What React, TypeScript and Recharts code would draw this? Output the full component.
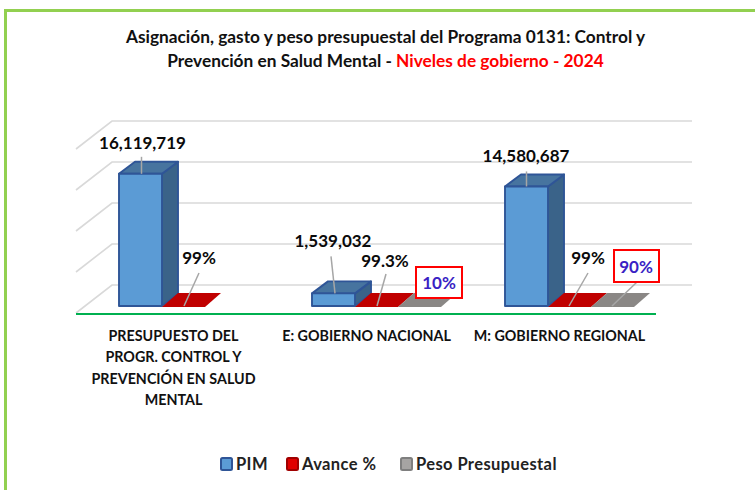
import React from "react";
import { BarChart, Bar, XAxis, YAxis, CartesianGrid, Legend, LabelList } from "recharts";

const categories = [
  "PRESUPUESTO DEL|PROGR. CONTROL Y|PREVENCIÓN EN SALUD|MENTAL",
  "E: GOBIERNO NACIONAL",
  "M: GOBIERNO REGIONAL",
];
const pim = [16119719, 1539032, 14580687];
const avance = [0.99, 0.993, 0.99];
const peso = [null, 0.1, 0.9];
const pimLabels = ["16,119,719", "1,539,032", "14,580,687"];
const avanceLabels = ["99%", "99.3%", "99%"];
const pesoLabels = ["10%", "90%"];
const yTicks = [0, 5000000, 10000000, 15000000, 20000000];

const rows = categories.map((name, i) => ({ name, pim: pim[i], avance: avance[i], peso: peso[i] }));

const W = 755, H = 490;
const BASE = 306;
const M = { top: 142, right: 89, bottom: 124, left: 87 };
const FONT = "Lato, Carlito, sans-serif";
const DX = 16, DY = 12;

const Bar3D = (p: any) => {
  const { x, y, width, height, fill, dark, top } = p;
  if (p.value == null || (Array.isArray(p.value) && p.value[1] == null)) return null;
  const h = Math.max(height, 0);
  if (h < 1) {
    return <path d={`M${x} ${y + h + 1}h${width}l${DX} ${-DY - 2}h${-width}z`} fill={fill} />;
  }
  const s = "#2f5597";
  return (
    <g stroke={s} strokeWidth={1.9} strokeLinejoin="round">
      <path d={`M${x + width} ${y}l${DX} ${-DY}v${h}l${-DX} ${DY}z`} fill={dark} />
      <path d={`M${x} ${y}l${DX} ${-DY}h${width}l${-DX} ${DY}z`} fill={top} />
      <rect x={x} y={y} width={width} height={h} fill={fill} />
    </g>
  );
};

const GridLine = (p: any) => {
  const { x1, x2, y1 } = p;
  const floor = Math.abs(y1 - BASE) < 1;
  return (
    <g>
      <path
        d={`M${x1 - 11} ${y1 + 7}L${x1 + 25} ${y1 - 21}H${x2 + 26}`}
        fill="none"
        stroke="#d9d9d9"
        strokeWidth={1.6}
      />
      {floor && <line x1={x1 - 11} x2={x2 - 10} y1={BASE + 8} y2={BASE + 8} stroke="#00b050" strokeWidth={2.2} />}
    </g>
  );
};

const CategoryTick = (p: any) => {
  const lines = String(p.payload.value).split("|");
  return (
    <text textAnchor="middle" fontFamily={FONT} fontWeight={700} fontSize={14.3} fill="#111">
      {lines.map((l, i) => (
        <tspan key={i} x={p.x - 10} y={341 + i * 21.4}>
          {l}
        </tspan>
      ))}
    </text>
  );
};

// label offsets from the bar's front-left corner
type Off = { tx: number; ty: number; x1: number; y1: number; x2: number; y2: number; box?: number[] };
const pimOff: Off[] = [
  { tx: 23.5, ty: -25, x1: 22.5, y1: -17, x2: 22.5, y2: 0 },
  { tx: 21, ty: -46, x1: 19, y1: -37, x2: 23, y2: 0 },
  { tx: 21, ty: -24, x1: 21.5, y1: -15, x2: 21.5, y2: 0 },
];
const avanceOff: Off[] = [
  { tx: 37, ty: -42, x1: 37, y1: -33, x2: 22, y2: 0 },
  { tx: 30, ty: -39, x1: 31, y1: -32, x2: 22, y2: 0 },
  { tx: 40, ty: -42, x1: 40, y1: -33, x2: 21, y2: 0 },
];
const pesoOff: Off[] = [
  { tx: 41, ty: -17, x1: 0, y1: 0, x2: 0, y2: 0, box: [18, -39, 46, 31] },
  { tx: 45, ty: -33, x1: 46, y1: -24, x2: 21, y2: 0, box: [23, -56, 45, 32] },
];

const makeLabel = (texts: string[], offs: Off[], blue = false) => (p: any) => {
  const { index, x, y } = p;
  const t = texts[index];
  if (!t) return null;
  const o = offs[index];
  const ox = Number(x);
  const oy = Number(y);
  return (
    <g>
      {o.x1 !== o.x2 || o.y1 !== o.y2 ? (
        <line x1={ox + o.x1} y1={oy + o.y1} x2={ox + o.x2} y2={oy + o.y2} stroke="#a6a6a6" strokeWidth={1.5} />
      ) : null}
      {o.box && (
        <rect x={ox + o.box[0]} y={oy + o.box[1]} width={o.box[2]} height={o.box[3]} fill="#fff" stroke="#ff0000" strokeWidth={2} />
      )}
      <text
        x={ox + o.tx}
        y={oy + o.ty}
        textAnchor="middle"
        fontFamily={FONT}
        fontWeight={700}
        fontSize={17}
        fill={blue ? "#3a1fc4" : "#0a0a0a"}
      >
        {t}
      </text>
    </g>
  );
};

const legendStroke: Record<string, string> = { PIM: "#2f5597", "Avance %": "#a00000", "Peso Presupuestal": "#7f7f7f" };
const legendFill: Record<string, string> = { PIM: "#5b9bd5", "Avance %": "#e00000", "Peso Presupuestal": "#a6a4a3" };

const LegendContent = (p: any) => {
  const items = p.payload || [];
  const xs = [220, 286, 400];
  return (
    <svg width={W} height={30} style={{ display: "block" }}>
      {items.map((it: any, i: number) => (
        <g key={it.value}>
          <rect x={xs[i] + 1} y={8} width={11} height={12} rx={1.5} fill={legendFill[it.value]} stroke={legendStroke[it.value]} strokeWidth={2} />
          <text x={xs[i] + 16} y={20} fontFamily={FONT} fontWeight={700} fontSize={16.5} letterSpacing={0.4} fill="#222">
            {it.value}
          </text>
        </g>
      ))}
    </svg>
  );
};

export default function App() {
  return (
    <div style={{ position: "absolute", left: 0, top: 0, width: W, height: H, background: "#fff", overflow: "hidden" }}>
      <div style={{ position: "absolute", left: 4, top: 9, width: 760, height: 500, border: "3px solid #92d050", boxSizing: "border-box" }} />
      <div
        style={{
          position: "absolute",
          left: 0,
          width: 771,
          top: 25,
          textAlign: "center",
          fontFamily: FONT,
          fontWeight: 700,
          fontSize: 17.3,
          lineHeight: "24px",
          color: "#111",
        }}
      >
        Asignación, gasto y peso presupuestal del Programa 0131: Control y
        <br />
        Prevención en Salud Mental - <span style={{ color: "#ff0000" }}>Niveles de gobierno - 2024</span>
      </div>
      <div style={{ position: "absolute", left: 0, top: 0 }}>
        <BarChart width={W} height={H} data={rows} margin={M} barSize={43} barGap={0} barCategoryGap={32}>
          <CartesianGrid vertical={false} horizontal={GridLine as any} horizontalValues={yTicks} />
          <YAxis hide domain={[0, 20000000]} ticks={yTicks} />
          <XAxis dataKey="name" axisLine={false} tickLine={false} interval={0} tick={CategoryTick as any} />
          <Legend
            verticalAlign="bottom"
            itemSorter={null as any}
            height={30}
            content={LegendContent as any}
            wrapperStyle={{ position: "absolute", left: 0, top: 450, width: W, height: 30 }}
          />
          <Bar dataKey="pim" name="PIM" fill="#5b9bd5" stroke="#2f5597" isAnimationActive={false}
            shape={(p: any) => <Bar3D {...p} dark="#3a6389" top="#47749f" />}>
            <LabelList dataKey="pim" content={makeLabel(pimLabels, pimOff) as any} />
          </Bar>
          <Bar dataKey="avance" name="Avance %" fill="#c00000" stroke="#a00000" isAnimationActive={false} shape={Bar3D as any}>
            <LabelList dataKey="avance" content={makeLabel(avanceLabels, avanceOff) as any} />
          </Bar>
          <Bar dataKey="peso" name="Peso Presupuestal" fill="#8a8785" stroke="#7f7f7f" isAnimationActive={false} shape={Bar3D as any}>
            <LabelList dataKey="peso" content={makeLabel(pesoLabels, pesoOff, true) as any} />
          </Bar>
        </BarChart>
      </div>
    </div>
  );
}
